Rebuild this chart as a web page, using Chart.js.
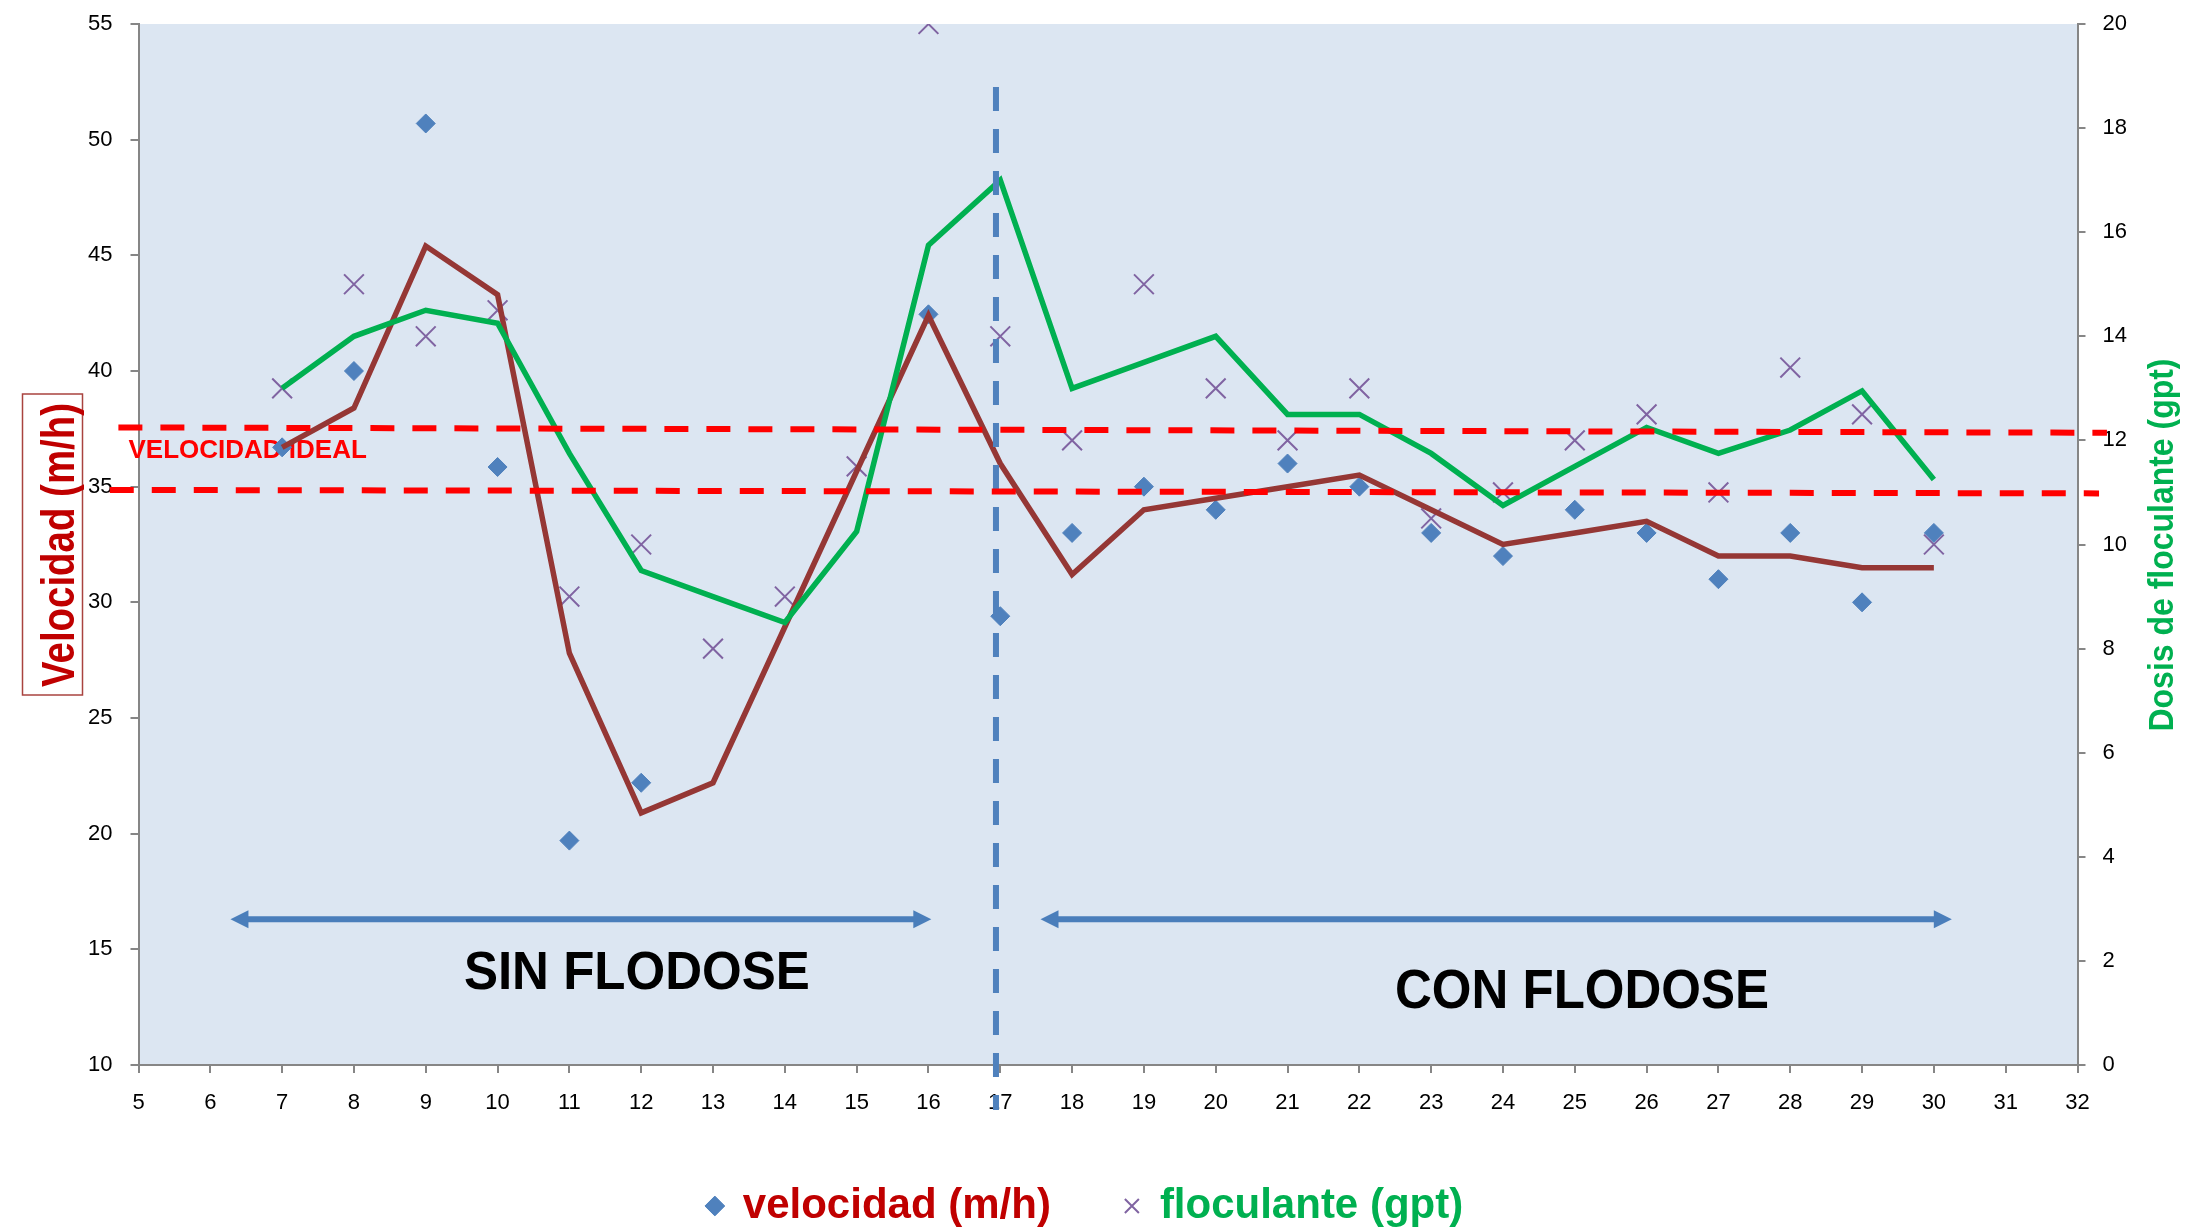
<!DOCTYPE html>
<html>
<head>
<meta charset="utf-8">
<title>Velocidad y floculante</title>
<script src="https://cdn.jsdelivr.net/npm/chart.js@4/dist/chart.umd.min.js"></script>
<style>
  html, body { margin: 0; padding: 0; background: #ffffff; }
  #wrap { width: 2205px; height: 1232px; }
</style>
</head>
<body>
<div id="wrap"><canvas id="grafico" width="2205" height="1232"></canvas></div>
<script>
// --- valores ---
const diasVel = [7, 8, 9, 10, 11, 12, 16, 17, 18, 19, 20, 21, 22, 23, 24, 25, 26, 27, 28, 29, 30];
const velocidad = [36.7, 40.0, 50.7, 35.85, 19.7, 22.2, 42.45, 29.4, 33.0, 35.0, 34.0, 36.0, 35.0, 33.0, 32.0, 34.0, 33.0, 31.0, 33.0, 30.0, 33.0];

const diasFloc = [7, 8, 9, 10, 11, 12, 13, 14, 15, 16, 17, 18, 19, 20, 21, 22, 23, 24, 25, 26, 27, 28, 29, 30];
const floculante = [13, 15, 14, 14.5, 9, 10, 8, 9, 11.5, 20, 14, 12, 15, 13, 12, 13, 10.5, 11, 12, 12.5, 11, 13.4, 12.5, 10];

// lineas de tendencia (media movil) tal como se ven
const diasTendVel = [7, 8, 9, 10, 11, 12, 13, 16, 17, 18, 19, 20, 21, 22, 23, 24, 25, 26, 27, 28, 29, 30];
const tendVelocidad = [36.7, 38.4, 45.4, 43.3, 27.8, 20.9, 22.2, 42.4, 36.0, 31.2, 34.0, 34.5, 35.0, 35.5, 34.0, 32.5, 33.0, 33.5, 32.0, 32.0, 31.5, 31.5];
const diasTendFloc = [7, 8, 9, 10, 11, 12, 13, 14, 15, 16, 17, 18, 19, 20, 21, 22, 23, 24, 25, 26, 27, 28, 29, 30];
const tendFloculante = [13.0, 14.0, 14.5, 14.25, 11.75, 9.5, 9.0, 8.5, 10.25, 15.75, 17.0, 13.0, 13.5, 14.0, 12.5, 12.5, 11.75, 10.75, 11.5, 12.25, 11.75, 12.2, 12.95, 11.25];

// ticks de los ejes
const ejeX = [5, 32, 1];
const ejeVel = [10, 55, 5];
const ejeFloc = [0, 20, 2];

// anotaciones (en unidades del grafico)
const idealX = [4.72, 32.41, 4.60, 32.30];
const idealY = [37.56, 37.33, 34.86, 34.71];
const corteX = [16.94, 16.94];
const corteY = [52.28, 8.05];
const flechasX = [[6.28, 16.04], [17.56, 30.25]];
const flechasY = [16.3, 16.3];
const rotulos = ['SIN FLODOSE', 'CON FLODOSE'];
const rotulosX = [11.94, 25.10];
const rotulosY = [13.93, 13.13];

const pts = (xs, ys) => xs.map((x, i) => ({ x: x, y: ys[i] }));

const FAM = "'Liberation Sans', Arial, sans-serif";
const GRIS = '#868686';
const tickFont = { family: FAM, size: 22 };

const decoracion = {
    id: 'decoracion',
    beforeDraw(chart) {
        const { ctx, chartArea: a } = chart;
        ctx.save();
        ctx.fillStyle = '#dce6f2';
        ctx.fillRect(a.left, a.top, a.right - a.left, a.bottom - a.top);
        ctx.restore();
    },
    afterLayout(chart) {
        // la leyenda del original esta un poco mas abajo y a la izquierda
        const lg = chart.legend;
        lg.top += 5; lg.bottom += 5;
        lg.left -= 17; lg.right -= 17;
        // deja sitio a las etiquetas del eje x (se recortan a la caja del eje)
        const sx = chart.scales.x;
        sx.bottom = sx.top + 70;
        sx.height = 70;
    },
    beforeDatasetsDraw(chart) {
        const { ctx } = chart;
        const sx = chart.scales.x, sy = chart.scales.y;
        ctx.save();

        // flechas de los periodos
        ctx.fillStyle = '#4a7ebb';
        ctx.strokeStyle = '#4a7ebb';
        ctx.lineWidth = 6;
        flechasX.forEach((par, i) => {
            const x1 = sx.getPixelForValue(par[0]);
            const x2 = sx.getPixelForValue(par[1]);
            const y = sy.getPixelForValue(flechasY[i]);
            const head = 18, half = 9;
            ctx.beginPath();
            ctx.moveTo(x1 + head - 1, y);
            ctx.lineTo(x2 - head + 1, y);
            ctx.stroke();
            ctx.beginPath();
            ctx.moveTo(x1, y); ctx.lineTo(x1 + head, y - half); ctx.lineTo(x1 + head, y + half);
            ctx.closePath(); ctx.fill();
            ctx.beginPath();
            ctx.moveTo(x2, y); ctx.lineTo(x2 - head, y - half); ctx.lineTo(x2 - head, y + half);
            ctx.closePath(); ctx.fill();
        });

        // rotulos SIN / CON FLODOSE
        ctx.fillStyle = '#000000';
        ctx.textAlign = 'center';
        ctx.textBaseline = 'middle';
        const tam = [53, 56], ancho = [346, 374];
        rotulos.forEach((t, i) => {
            ctx.font = 'bold ' + tam[i] + 'px ' + FAM;
            ctx.fillText(t, sx.getPixelForValue(rotulosX[i]), sy.getPixelForValue(rotulosY[i]), ancho[i]);
        });

        // texto de la banda ideal
        ctx.fillStyle = '#ff0000';
        ctx.textAlign = 'left';
        ctx.font = 'bold 26px ' + FAM;
        ctx.fillText('VELOCIDAD IDEAL', sx.getPixelForValue(4.86), sy.getPixelForValue(36.56), 240);
        ctx.restore();
    },
    afterDraw(chart) {
        const { ctx, chartArea: a } = chart;
        const cy = a.top + 521;
        ctx.save();

        // titulo eje izquierdo con recuadro
        ctx.strokeStyle = '#a9433f';
        ctx.lineWidth = 1.5;
        ctx.strokeRect(a.left - 116, a.top + 370, 60, 301);
        ctx.translate(a.left - 65, cy);
        ctx.rotate(-Math.PI / 2);
        ctx.fillStyle = '#c00000';
        ctx.textAlign = 'center';
        ctx.textBaseline = 'alphabetic';
        ctx.font = 'bold 46px ' + FAM;
        ctx.fillText('Velocidad (m/h)', 0, 0, 284);
        ctx.restore();

        // titulo eje derecho
        ctx.save();
        ctx.translate(a.right + 95, cy);
        ctx.rotate(-Math.PI / 2);
        ctx.fillStyle = '#00b050';
        ctx.textAlign = 'center';
        ctx.textBaseline = 'alphabetic';
        ctx.font = 'bold 35px ' + FAM;
        ctx.fillText('Dosis de floculante (gpt)', 0, 0, 373);
        ctx.restore();
    }
};

new Chart(document.getElementById('grafico'), {
    type: 'scatter',
    data: {
        datasets: [
            {
                label: 'velocidad (m/h)',
                data: pts(diasVel, velocidad),
                yAxisID: 'y',
                pointStyle: 'rectRot',
                pointRadius: 9.5,
                backgroundColor: '#4f81bd',
                borderColor: '#4f81bd',
                borderWidth: 1,
                legendColor: '#c00000',
                order: 5
            },
            {
                label: 'floculante (gpt)',
                data: pts(diasFloc, floculante),
                yAxisID: 'y2',
                pointStyle: 'crossRot',
                pointRadius: 14,
                backgroundColor: '#8064a2',
                borderColor: '#8064a2',
                borderWidth: 2,
                legendColor: '#00b050',
                order: 4
            },
            {
                label: 'media velocidad',
                data: pts(diasTendVel, tendVelocidad),
                yAxisID: 'y',
                showLine: true,
                pointRadius: 0,
                borderColor: '#953735',
                borderWidth: 5.5,
                order: 3
            },
            {
                label: 'media floculante',
                data: pts(diasTendFloc, tendFloculante),
                yAxisID: 'y2',
                showLine: true,
                pointRadius: 0,
                borderColor: '#00b050',
                borderWidth: 5.5,
                order: 2
            },
            {
                label: 'ideal sup',
                data: pts(idealX.slice(0, 2), idealY.slice(0, 2)),
                yAxisID: 'y',
                showLine: true,
                pointRadius: 0,
                borderColor: '#ff0000',
                borderWidth: 6,
                borderDash: [24, 18],
                clip: false,
                order: 1
            },
            {
                label: 'ideal inf',
                data: pts(idealX.slice(2, 4), idealY.slice(2, 4)),
                yAxisID: 'y',
                showLine: true,
                pointRadius: 0,
                borderColor: '#ff0000',
                borderWidth: 6,
                borderDash: [24, 18],
                clip: false,
                order: 1
            },
            {
                label: 'corte',
                data: pts(corteX, corteY),
                yAxisID: 'y',
                showLine: true,
                pointRadius: 0,
                borderColor: '#4f81bd',
                borderWidth: 6,
                borderDash: [24, 18],
                clip: false,
                order: 1
            }
        ]
    },
    options: {
        responsive: false,
        animation: false,
        events: [],
        devicePixelRatio: 1,
        layout: { padding: { top: 24, left: 0, right: 0, bottom: 0 } },
        elements: { line: { tension: 0, borderJoinStyle: 'miter', borderCapStyle: 'butt' } },
        scales: {
            x: {
                type: 'linear',
                min: ejeX[0], max: ejeX[1],
                ticks: { stepSize: ejeX[2], autoSkip: false, maxRotation: 0, color: '#000', font: tickFont, padding: 17 },
                grid: { drawOnChartArea: false, color: GRIS, lineWidth: 2, tickLength: 8 },
                border: { color: GRIS, width: 2 },
                afterFit: (s) => { s.height = 41; }
            },
            y: {
                position: 'left',
                min: ejeVel[0], max: ejeVel[1],
                ticks: { stepSize: ejeVel[2], color: '#000', font: tickFont, padding: 18 },
                grid: { drawOnChartArea: false, color: GRIS, lineWidth: 2, tickLength: 8 },
                border: { color: GRIS, width: 2 },
                afterFit: (s) => { s.width = 138.5; s.paddingTop = 0; s.paddingBottom = 0; }
            },
            y2: {
                position: 'right',
                min: ejeFloc[0], max: ejeFloc[1],
                ticks: { stepSize: ejeFloc[2], color: '#000', font: tickFont, padding: 17 },
                grid: { drawOnChartArea: false, color: GRIS, lineWidth: 2, tickLength: 8 },
                border: { color: GRIS, width: 2 },
                afterFit: (s) => { s.width = 127.5; s.paddingTop = 0; s.paddingBottom = 0; }
            }
        },
        plugins: {
            tooltip: { enabled: false },
            legend: {
                position: 'bottom',
                labels: {
                    usePointStyle: true,
                    boxWidth: 14,
                    boxHeight: 14,
                    padding: 74,
                    font: { family: FAM, size: 42, weight: 'bold' },
                    generateLabels(chart) {
                        const base = Chart.defaults.plugins.legend.labels.generateLabels(chart);
                        return base
                            .filter(it => it.datasetIndex < 2)
                            .sort((a, b) => a.datasetIndex - b.datasetIndex)
                            .map(it => Object.assign(it, { fontColor: chart.data.datasets[it.datasetIndex].legendColor }));
                    }
                }
            }
        }
    },
    plugins: [decoracion]
});
</script>
</body>
</html>
